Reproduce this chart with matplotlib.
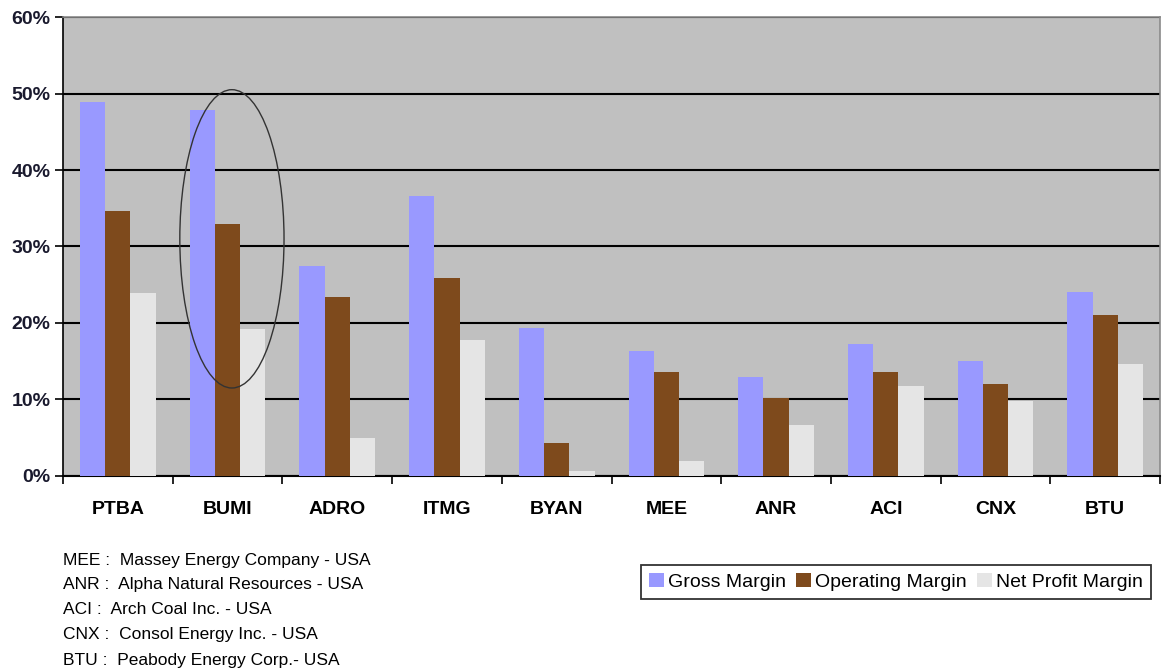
import matplotlib.pyplot as plt
import numpy as np
from matplotlib.patches import Ellipse

# margins per company (in %)
companies = ['PTBA', 'BUMI', 'ADRO', 'ITMG', 'BYAN', 'MEE', 'ANR', 'ACI', 'CNX', 'BTU']
gross_margin = [48.9, 47.9, 27.5, 36.6, 19.4, 16.4, 13.0, 17.2, 15.0, 24.1]
operating_margin = [34.6, 32.9, 23.4, 25.9, 4.3, 13.6, 10.2, 13.6, 12.0, 21.0]
net_profit_margin = [23.9, 19.2, 5.0, 17.8, 0.6, 2.0, 6.7, 11.8, 9.8, 14.6]
series_names = ['Gross Margin', 'Operating Margin', 'Net Profit Margin']
yticks = [0, 10, 20, 30, 40, 50, 60]
footnotes = ['MEE :  Massey Energy Company - USA',
             'ANR :  Alpha Natural Resources - USA',
             'ACI :  Arch Coal Inc. - USA',
             'CNX :  Consol Energy Inc. - USA',
             'BTU :  Peabody Energy Corp.- USA']

colors = ['#9999FF', '#7E4A1C', '#E5E5E5']
font = ['Liberation Sans', 'DejaVu Sans']

fig = plt.figure(figsize=(11.64, 6.70), dpi=100)
ax = fig.add_axes([0.0541, 0.2896, 0.9425, 0.685])
ax.set_facecolor('#C0C0C0')

x = np.arange(len(companies))
w = 0.23
for i, (vals, name) in enumerate(zip([gross_margin, operating_margin, net_profit_margin], series_names)):
    ax.bar(x + (i - 1) * w, vals, width=w, color=colors[i], label=name, zorder=3)

ax.set_xlim(-0.5, len(companies) - 0.5)
ax.set_ylim(0, 60)
ax.set_yticks(yticks)
ax.set_yticklabels([f'{t}%' for t in yticks], fontsize=14, fontweight='bold', family=font, color='#1a1a2e')
ax.yaxis.grid(True, color='black', linewidth=1.5, zorder=1)
ax.set_axisbelow(True)

# category ticks sit on the boundaries, labels in the middle
ax.set_xticks(np.arange(-0.5, len(companies)), minor=False)
ax.set_xticklabels([])
ax.set_xticks(x, minor=True)
ax.set_xticklabels(companies, minor=True, fontsize=14, fontweight='bold', family=font)
ax.tick_params(axis='x', which='minor', length=0, pad=18)
ax.tick_params(axis='x', which='major', length=6, width=1.2, direction='out')
ax.tick_params(axis='y', length=6, width=1.2, direction='out', pad=3)

for side in ['top', 'right']:
    ax.spines[side].set_color('#8a8a8a')
    ax.spines[side].set_linewidth(1.2)
ax.spines['left'].set_linewidth(1.2)
ax.spines['bottom'].set_linewidth(1.5)

# highlight BUMI
ax.add_patch(Ellipse((1.04, 31), 0.95, 39, fill=False, edgecolor='#333333', linewidth=1.0, zorder=4))

leg = fig.legend(loc='upper left', bbox_to_anchor=(0.5507, 0.157), ncol=3, frameon=True, fancybox=False,
                 edgecolor='black', handlelength=0.75, handleheight=0.75, handletextpad=0.2,
                 columnspacing=0.55, borderpad=0.42, borderaxespad=0,
                 prop={'family': font, 'size': 14})
leg.get_frame().set_linewidth(1.3)

for k, line in enumerate(footnotes):
    fig.text(0.054, 1 - (560 + 25 * k) / 670, line, fontsize=12.5, va='center', ha='left',
             family=['Liberation Sans Narrow', 'Liberation Sans', 'DejaVu Sans'])

fig.savefig('out.png', dpi=100)
